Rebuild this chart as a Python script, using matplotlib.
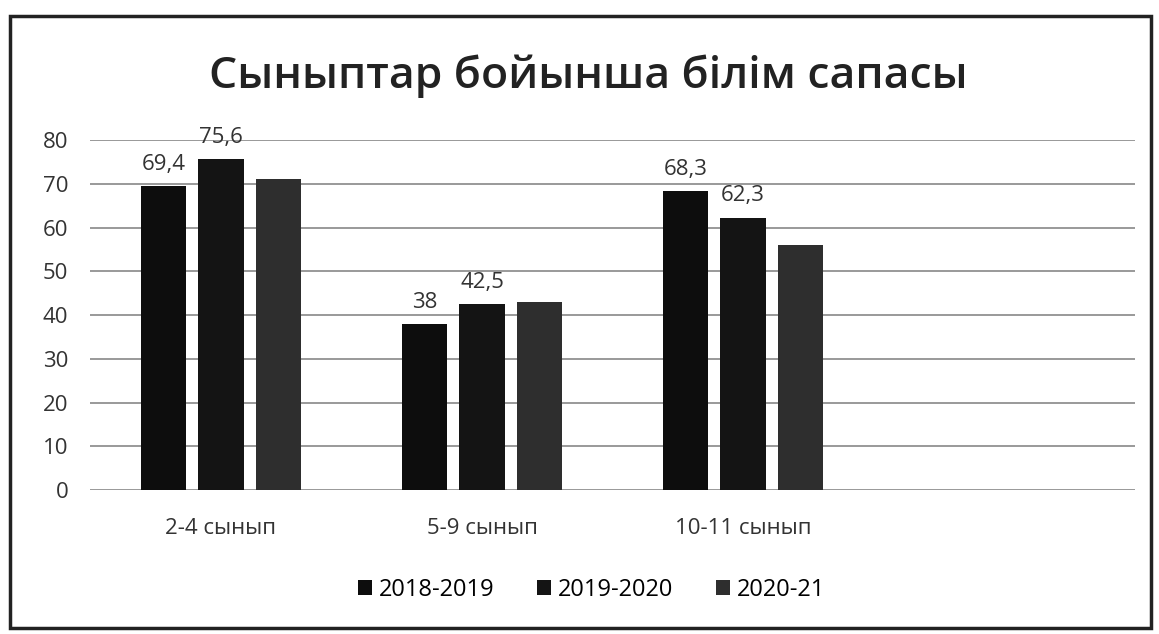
import matplotlib.pyplot as plt
import numpy as np
from matplotlib.patches import Rectangle

plt.rcParams['font.family'] = ['Open Sans', 'DejaVu Sans']

categories = ["2-4 сынып", "5-9 сынып", "10-11 сынып", ""]
series = ["2018-2019", "2019-2020", "2020-21"]
v_2018 = [69.4, 38, 68.3, np.nan]
v_2019 = [75.6, 42.5, 62.3, np.nan]
v_2020 = [71, 43, 56, np.nan]
show_labels = [True, True, False]

colors = ["#0d0d0d", "#141414", "#2e2e2e"]

fig = plt.figure(figsize=(11.59, 6.34), dpi=100)
ax = fig.add_axes([0.078, 0.227, 0.901, 0.552])

x = np.arange(len(categories))
w = 0.175
step = 0.22
for i, (name, vals) in enumerate(zip(series, [v_2018, v_2019, v_2020])):
    bars = ax.bar(x + (i - 1) * step, vals, w, color=colors[i], label=name, zorder=3)
    if show_labels[i]:
        labs = ["" if np.isnan(v) else f"{v:g}".replace(".", ",") for v in vals]
        ax.bar_label(bars, labels=labs, padding=8, fontsize=16, color="#333333")

ax.set_xlim(-0.5, 3.5)
ax.set_ylim(0, 80)
ax.set_yticks(range(0, 81, 10))
ax.set_xticks(x)
ax.set_xticklabels(categories, fontsize=16)
ax.tick_params(axis="both", length=0, labelsize=16, colors="#333333")
ax.tick_params(axis="y", pad=16)
ax.tick_params(axis="x", pad=20)
ax.grid(axis="y", color="#888888", linewidth=1.2, zorder=0)
for s in ax.spines.values():
    s.set_visible(False)

fig.text(0.508, 0.88, "Сыныптар бойынша білім сапасы", ha="center", va="center",
         fontsize=32, fontweight="semibold", color="#222222")
ax.legend(loc="upper center", bbox_to_anchor=(0.48, -0.19), ncol=3, frameon=False,
          fontsize=17, handlelength=0.6, handleheight=0.6, handletextpad=0.3,
          columnspacing=1.8)

fig.patches.append(Rectangle((0.009, 0.01), 0.984, 0.965, transform=fig.transFigure,
                             fill=False, edgecolor="#222222", linewidth=2.5))

fig.savefig("out.png", dpi=100)
